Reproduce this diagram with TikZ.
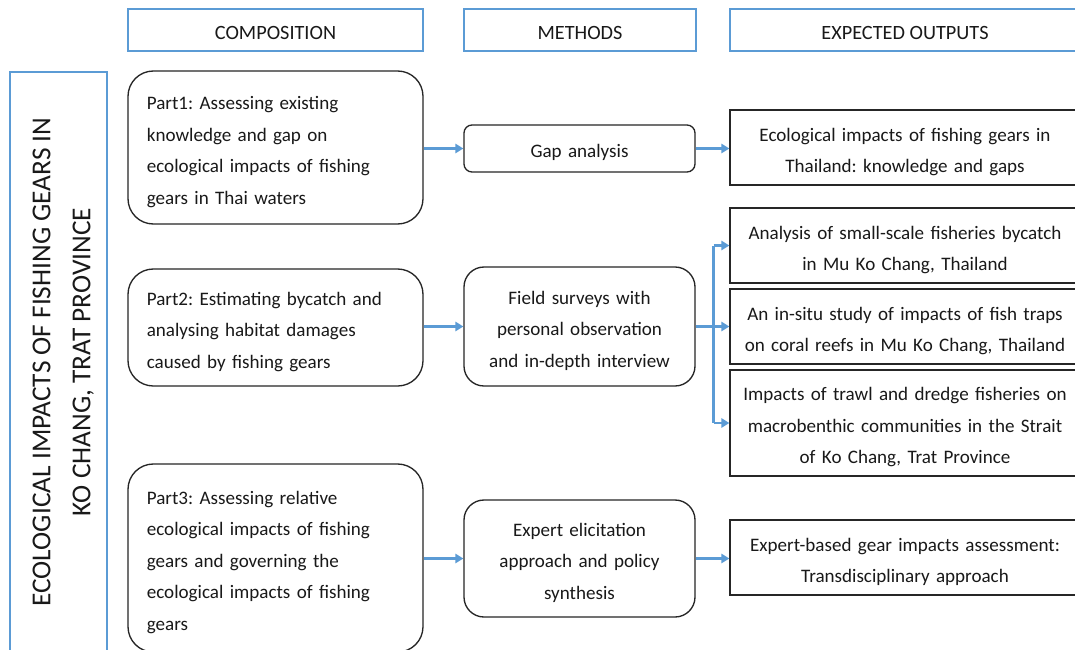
\documentclass[tikz,border=0pt]{standalone}
\usepackage{fontspec}
\setmainfont{Carlito}
\frenchspacing
\usetikzlibrary{arrows.meta}
\definecolor{hblue}{HTML}{5B9BD5}
\begin{document}
\begin{tikzpicture}[x=0.75pt,y=-0.75pt,
  every node/.style={font=\fontsize{14.3}{23.6}\selectfont, text=black!90},
  headbox/.style={draw=hblue, line width=2.2pt, minimum height=31.5pt, inner sep=0pt, font=\fontsize{15.2}{18}\selectfont, text height=14pt, text depth=0pt},
  txt/.style={execute at begin node={\rule{0pt}{16.5pt}}},
  partbox/.style={txt, draw=black!85, line width=1pt, rounded corners=19pt, minimum width=221.25pt, text width=193pt, align=left, inner xsep=14pt},
  methbox/.style={txt, draw=black!85, line width=1pt, rounded corners=15pt, minimum width=173.25pt, text width=165pt, align=center, inner xsep=4pt},
  outbox/.style={txt, draw=black!85, line width=1pt, minimum width=262.5pt, text width=256pt, align=center, inner xsep=3pt},
  arr/.style={draw=hblue, line width=2.2pt, -{Triangle[length=6pt,width=7pt]}},
  ln/.style={draw=hblue, line width=2.2pt}]
\useasboundingbox (0,0) rectangle (1075,650);
\clip (0,0) rectangle (1075,650);
\fill[white] (0,0) rectangle (1075,650);
% headers
\node[headbox, minimum width=221.25pt] (hc) at (275.5,30) {COMPOSITION};
\node[headbox, minimum width=174pt] (hm) at (580,30) {METHODS};
\node[headbox, minimum width=262.5pt] (ho) at (905,30) {EXPECTED OUTPUTS};
% left
\node[draw=hblue, line width=2.2pt, minimum width=72.75pt, minimum height=435pt, inner sep=0pt] (lf) at (58.5,362) {};
\node[rotate=90, align=center, font=\fontsize{20.5}{30}\selectfont] (lt) at ([xshift=3.5pt]lf.center) {ECOLOGICAL IMPACTS OF FISHING GEARS IN\\KO CHANG, TRAT PROVINCE};
% part 1
\node[partbox, minimum height=114.75pt] (p1) at (275.5,147.5) {Part1: Assessing existing\\knowledge and gap on\\ecological impacts of fishing\\gears in Thai waters};
\node[methbox, rounded corners=6pt, minimum height=35.25pt] (gap) at (579.5,148.5) {Gap analysis};
\node[outbox, minimum height=56.25pt] (o1) at (905,147.5) {Ecological impacts of fishing gears in\\Thailand: knowledge and gaps};
% part 2
\node[partbox, minimum height=87.75pt] (p2) at (275.5,327.5) {Part2: Estimating bycatch and\\analysing habitat damages\\caused by fishing gears};
\node[methbox, minimum height=89.25pt] (fs) at (579.5,326.5) {Field surveys with\\personal observation\\and in-depth interview};
\node[outbox, minimum height=56.25pt] (o2a) at (905,245.5) {Analysis of small-scale fisheries bycatch\\in Mu Ko Chang, Thailand};
\node[outbox, minimum height=56.25pt] (o2b) at (905,326.5) {An in-situ study of impacts of fish traps\\on coral reefs in Mu Ko Chang, Thailand};
\node[outbox, minimum height=79.5pt] (o2c) at (905,423) {Impacts of trawl and dredge fisheries on\\macrobenthic communities in the Strait\\of Ko Chang, Trat Province};
% part 3
\node[partbox, minimum height=141pt] (p3) at (275.5,558) {Part3: Assessing relative\\ecological impacts of fishing\\gears and governing the\\ecological impacts of fishing\\gears};
\node[methbox, minimum height=87.75pt] (ex) at (579.5,558.5) {Expert elicitation\\approach and policy\\synthesis};
\node[outbox, minimum height=56.25pt] (o3) at (905,557.5) {Expert-based gear impacts assessment:\\Transdisciplinary approach};
% arrows
\draw[arr] (p1.east |- gap.west) -- (gap.west);
\draw[arr] (gap.east) -- (gap.east -| o1.west);
\draw[arr] (p2.east |- fs.west) -- (fs.west);
\coordinate (br) at ([xshift=13.5pt]fs.east);
\draw[ln] (fs.east) -- (br);
\draw[ln] (br |- o2a.west) -- (br |- o2c.west);
\draw[arr] (br |- o2a.west) -- (o2a.west);
\draw[arr] (br |- o2b.west) -- (o2b.west);
\draw[arr] (br |- o2c.west) -- (o2c.west);
\draw[arr] (p3.east |- ex.west) -- (ex.west);
\draw[arr] (ex.east) -- (ex.east -| o3.west);
\end{tikzpicture}
\end{document}
